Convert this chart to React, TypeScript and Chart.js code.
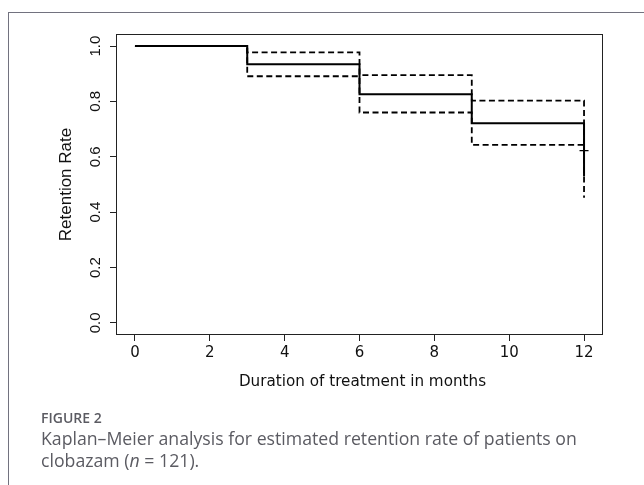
import React, { useEffect, useRef } from "react";
import { Chart, registerables } from "chart.js";

Chart.register(...registerables);

// Kaplan–Meier step data (months, retention rate)
const months = [0, 3, 6, 9, 12];
const survival = [1.0, 0.934, 0.826, 0.721, 0.53];
const upperCI = [1.0, 0.977, 0.895, 0.803, 0.62];
const lowerCI = [1.0, 0.891, 0.76, 0.643, 0.452];
const censorTime = [12];
const censorValue = [0.622];

const xTicks = [0, 2, 4, 6, 8, 10, 12];
const yTicks = [0, 0.2, 0.4, 0.6, 0.8, 1.0];
const yTickLabels = ["0.0", "0.2", "0.4", "0.6", "0.8", "1.0"];
const xTitle = "Duration of treatment in months";
const yTitle = "Retention Rate";

const toPts = (xs: number[], ys: number[]) => xs.map((x, i) => ({ x, y: ys[i] }));

const axisTextPlugin = {
  id: "axisText",
  afterDraw(chart: any) {
    const { ctx, chartArea, scales } = chart;
    const xs = scales.x;
    const ys = scales.y;
    ctx.save();
    // box
    ctx.strokeStyle = "#222";
    ctx.lineWidth = 1;
    ctx.strokeRect(
      chartArea.left - 0.5,
      chartArea.top - 0.5,
      chartArea.right - chartArea.left + 1,
      chartArea.bottom - chartArea.top + 1
    );
    ctx.fillStyle = "#111";
    ctx.textAlign = "center";
    ctx.textBaseline = "middle";
    // y tick labels (rotated)
    ctx.font = "15px 'Liberation Sans', Arial, sans-serif";
    yTicks.forEach((v, i) => {
      const y = ys.getPixelForValue(v);
      ctx.save();
      ctx.translate(chartArea.left - 21.5, y);
      ctx.rotate(-Math.PI / 2);
      ctx.fillText(yTickLabels[i], 0, 0);
      ctx.restore();
    });
    // y title
    ctx.font = "17px 'Liberation Sans', Arial, sans-serif";
    ctx.save();
    ctx.translate(chartArea.left - 50.5, (chartArea.top + chartArea.bottom) / 2);
    ctx.rotate(-Math.PI / 2);
    ctx.fillText(yTitle, 0, 0);
    ctx.restore();
    // x tick labels
    ctx.font = "15px 'DejaVu Sans', sans-serif";
    xTicks.forEach((v) => {
      const x = xs.getPixelForValue(v);
      ctx.fillText(String(v), x, chartArea.bottom + 19);
    });
    ctx.font = "15.2px 'DejaVu Sans', sans-serif";
    ctx.fillText(xTitle, (chartArea.left + chartArea.right) / 2 + 3, chartArea.bottom + 48);
    ctx.restore();
  },
};

export default function App() {
  const ref = useRef<HTMLCanvasElement | null>(null);
  useEffect(() => {
    if (!ref.current) return;
    const chart = new Chart(ref.current, {
      type: "scatter",
      data: {
        datasets: [
          {
            data: toPts(months, survival),
            showLine: true,
            stepped: true,
            borderColor: "#000",
            borderWidth: 2,
            pointRadius: 0,
          },
          {
            data: toPts(months, upperCI),
            showLine: true,
            stepped: true,
            borderColor: "#000",
            borderWidth: 1.8,
            borderDash: [6, 3.5],
            pointRadius: 0,
          },
          {
            data: toPts(months, lowerCI),
            showLine: true,
            stepped: true,
            borderColor: "#000",
            borderWidth: 1.8,
            borderDash: [6, 3.5],
            pointRadius: 0,
          },
          {
            data: toPts(censorTime, censorValue),
            showLine: false,
            pointStyle: "cross",
            pointRadius: 4.5,
            borderColor: "#000",
            borderWidth: 1.2,
          },
        ],
      },
      options: {
        animation: false,
        responsive: false,
        devicePixelRatio: 1,
        layout: { padding: { left: 0, top: 35, right: 42, bottom: 0 } },
        plugins: { legend: { display: false }, tooltip: { enabled: false } },
        scales: {
          x: {
            type: "linear",
            min: -0.48,
            max: 12.48,
            afterBuildTicks: (s: any) => {
              s.ticks = xTicks.map((value) => ({ value }));
            },
            afterFit: (s: any) => {
              s.height = 151;
            },
            ticks: { display: false },
            border: { display: false },
            grid: { drawOnChartArea: false, drawTicks: true, tickLength: 7, color: "#222", lineWidth: 1 },
          },
          y: {
            type: "linear",
            min: -0.04,
            max: 1.04,
            afterBuildTicks: (s: any) => {
              s.ticks = yTicks.map((value) => ({ value }));
            },
            afterFit: (s: any) => {
              s.width = 117;
            },
            ticks: { display: false },
            border: { display: false },
            grid: { drawOnChartArea: false, drawTicks: true, tickLength: 7, color: "#222", lineWidth: 1 },
          },
        },
      },
      plugins: [axisTextPlugin],
    });
    return () => chart.destroy();
  }, []);

  return (
    <div style={{ position: "fixed", left: 0, top: 0, width: 644, height: 485, overflow: "hidden", background: "#fff" }}>
      <div
        style={{
          position: "absolute",
          left: 8,
          top: 12,
          width: 700,
          height: 600,
          border: "1px solid #72727f",
          boxSizing: "border-box",
        }}
      />
      <canvas ref={ref} width={644} height={485} style={{ position: "absolute", left: 0, top: 0, width: 644, height: 485 }} />
      <div
        style={{
          position: "absolute",
          left: 41,
          top: 408,
          fontFamily: "'Open Sans', sans-serif",
          fontWeight: 600,
          fontSize: 14,
          lineHeight: "20px",
          color: "#5b5b62",
        }}
      >
        FIGURE 2
      </div>
      <div
        style={{
          position: "absolute",
          left: 41,
          top: 428,
          width: 620,
          whiteSpace: "nowrap",
          fontFamily: "'Open Sans', sans-serif",
          fontSize: 17.7,
          lineHeight: "21.5px",
          color: "#5b5b62",
        }}
      >
        Kaplan–Meier analysis for estimated retention rate of patients on
        <br />
        clobazam (<i>n</i> = 121).
      </div>
    </div>
  );
}
